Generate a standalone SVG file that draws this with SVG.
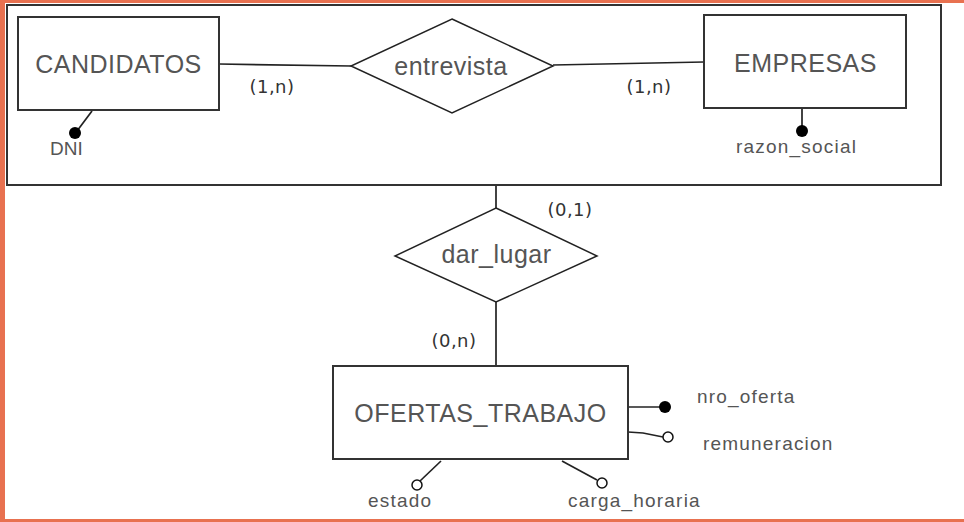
<svg xmlns="http://www.w3.org/2000/svg" width="964" height="522" viewBox="0 0 964 522">
<style>
.frame{fill:none;stroke:#333;stroke-width:2}
.ent{fill:#fff;stroke:#333;stroke-width:2}
.rel{fill:#fff;stroke:#222;stroke-width:1.5}
.name{font-family:"Liberation Sans",Arial,sans-serif;font-size:25px;fill:#555;text-anchor:middle;letter-spacing:0.5px}
.card{font-family:"DejaVu Sans",Verdana,sans-serif;font-size:18px;fill:#333;text-anchor:middle;letter-spacing:0.5px}
.attr{font-family:"Liberation Sans",Arial,sans-serif;font-size:19px;fill:#555;letter-spacing:1.2px}
.ln{fill:none;stroke:#222;stroke-width:1.7}
.key{fill:#000}
.opt{fill:#fff;stroke:#111;stroke-width:1.5}
</style>
<rect x="0" y="0" width="964" height="522" fill="#fff"/>
<rect x="0" y="0" width="964" height="3" fill="#e87150"/>
<rect x="0" y="519" width="964" height="3" fill="#e87150"/>
<rect x="0" y="0" width="5" height="522" fill="#e87150"/>

<g id="connectors">
<line class="ln" x1="219" y1="64" x2="351" y2="66"/>
<line class="ln" x1="553" y1="65" x2="704" y2="62"/>
<line class="ln" x1="496" y1="185" x2="496" y2="208"/>
<line class="ln" x1="496" y1="302" x2="496" y2="366"/>
<line class="ln" x1="92" y1="111" x2="77" y2="131"/>
<line class="ln" x1="802" y1="108" x2="802" y2="128"/>
<line class="ln" x1="628" y1="407" x2="662" y2="407"/>
<polyline class="ln" points="628,432 643,433 663,437"/>
<line class="ln" x1="441" y1="461" x2="420" y2="481"/>
<line class="ln" x1="562" y1="461" x2="597" y2="480"/>
<text class="card" x="272" y="93">(1,n)</text>
<text class="card" x="649" y="93">(1,n)</text>
<text class="card" x="570" y="216">(0,1)</text>
<text class="card" x="454" y="347">(0,n)</text>
</g>

<g id="agregacion">
<rect class="frame" x="7" y="5" width="934" height="180"/>
</g>

<g id="CANDIDATOS">
<rect class="ent" x="18" y="17" width="201" height="93"/>
<text class="name" x="118.5" y="73">CANDIDATOS</text>
</g>

<g id="EMPRESAS">
<rect class="ent" x="704" y="15" width="202" height="93"/>
<text class="name" x="805.5" y="72">EMPRESAS</text>
</g>

<g id="entrevista">
<polygon class="rel" points="452,19 553,66 452,113 351,66"/>
<text class="name" x="451" y="75">entrevista</text>
</g>

<g id="dar_lugar">
<polygon class="rel" points="496,208 597,256 496,302 395,256"/>
<text class="name" x="496.5" y="263">dar_lugar</text>
</g>

<g id="OFERTAS_TRABAJO">
<rect class="ent" x="333" y="366" width="295" height="93"/>
<text class="name" x="480.5" y="422">OFERTAS_TRABAJO</text>
</g>

<g id="attr_DNI">
<circle class="key" cx="75" cy="133" r="6"/>
<text class="attr" x="50" y="155" style="letter-spacing:0">DNI</text>
</g>
<g id="attr_razon_social">
<circle class="key" cx="802" cy="131" r="6"/>
<text class="attr" x="736" y="153">razon_social</text>
</g>
<g id="attr_nro_oferta">
<circle class="key" cx="665" cy="407" r="6"/>
<text class="attr" x="697" y="403">nro_oferta</text>
</g>
<g id="attr_remuneracion">
<circle class="opt" cx="668" cy="437" r="5"/>
<text class="attr" x="703" y="450">remuneracion</text>
</g>
<g id="attr_estado">
<circle class="opt" cx="417" cy="485" r="5"/>
<text class="attr" x="368" y="507">estado</text>
</g>
<g id="attr_carga_horaria">
<circle class="opt" cx="602" cy="483" r="5"/>
<text class="attr" x="568" y="507">carga_horaria</text>
</g>
</svg>
